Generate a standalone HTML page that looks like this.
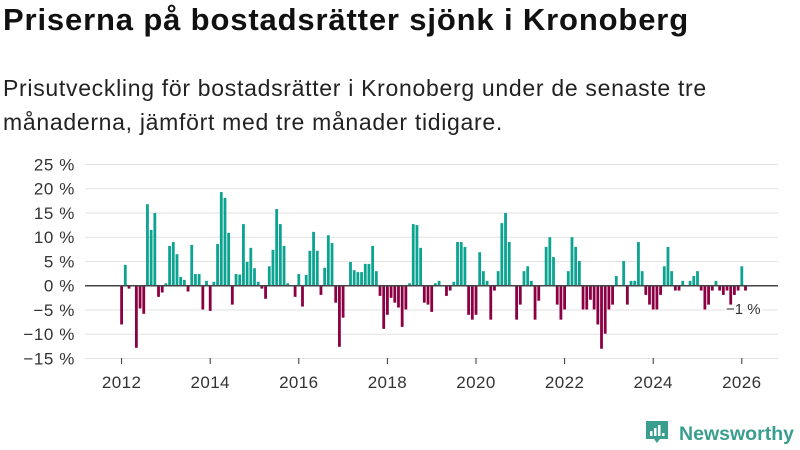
<!DOCTYPE html>
<html><head><meta charset="utf-8"><style>
html,body{margin:0;padding:0;background:#fff;}
body{width:800px;height:450px;overflow:hidden;position:relative;font-family:"Liberation Sans",sans-serif;color:#111;}
#title{position:absolute;left:3px;top:2px;font-size:31px;font-weight:bold;letter-spacing:0.85px;white-space:nowrap;}
#subtitle{position:absolute;left:3px;top:71px;font-size:23px;line-height:34px;letter-spacing:0.7px;white-space:nowrap;color:#222;}
svg{position:absolute;left:0;top:0;}
</style></head><body>
<div id="title">Priserna på bostadsrätter sjönk i Kronoberg</div>
<div id="subtitle">Prisutveckling för bostadsrätter i Kronoberg under de senaste tre<br>månaderna, jämfört med tre månader tidigare.</div>
<svg id="chart" width="800" height="450"></svg>
<script>
const values = [-8.0,4.3,-0.6,0,-12.8,-4.7,-5.8,16.8,11.5,15.0,-2.3,-1.4,
0.5,8.2,9.0,6.5,1.8,1.2,-1.2,8.4,2.4,2.4,-4.9,1.0,
-5.2,0.8,8.6,19.3,18.1,10.9,-3.9,2.4,2.3,12.7,4.9,7.8,
3.6,0.8,-0.6,-2.7,4.0,7.4,15.8,12.7,8.2,0.5,0,-2.3,
2.4,-4.3,2.2,7.2,11.1,7.2,-1.9,3.7,10.4,8.8,-3.5,-12.6,
-6.6,0,4.9,3.2,2.8,2.8,4.5,4.5,8.2,3.0,-2.1,-8.9,
-6.0,-2.5,-3.5,-4.5,-8.5,-4.9,0.5,12.7,12.5,7.8,-3.5,-3.9,
-5.4,0.5,1.0,0,-2.1,-1.0,0.8,9.0,9.0,8.0,-6.0,-7.0,
-6.0,6.9,3.0,1.0,-7.0,-1.0,3.0,12.9,15.0,9.0,0,-7.0,
-3.9,3.0,4.0,1.0,-7.0,-3.1,0,8.0,10.0,5.9,-3.9,-7.0,
-4.9,3.0,10.0,8.0,5.1,-4.9,-4.9,-2.9,-4.9,-8.0,-13.0,-9.9,
-4.9,-3.9,2.0,0,5.1,-3.9,1.0,1.0,9.0,3.0,-1.9,-3.9,
-4.9,-4.9,-1.9,4.0,8.0,3.0,-1.0,-1.0,1.0,0,1.0,2.0,
3.0,-1.0,-4.9,-3.9,-1.0,1.0,-1.0,-1.9,-1.0,-3.9,-1.9,-1.0,
4.0,-1.0];
const startYear = 2012;
const yTicks = [25,20,15,10,5,0,-5,-10,-15];
const xTicks = [2012,2014,2016,2018,2020,2022,2024,2026];
const lastLabel = "−1 %";

const svg = document.getElementById('chart');
const NS = 'http://www.w3.org/2000/svg';
const y = v => 285.7 - v*4.85;
const x = t => 121.6 + (t - startYear)*44.3;
function mk(tag, attrs){const e=document.createElementNS(NS,tag);for(const k in attrs)e.setAttribute(k,attrs[k]);svg.appendChild(e);return e;}

yTicks.forEach(v=>{
  const g = mk('line',{x1:85,x2:778,y1:y(v),y2:y(v),stroke:'#e2e2e2','stroke-width':1});
  
  
  const t = mk('text',{x:75,y:y(v)+6,'text-anchor':'end','font-size':17,'letter-spacing':0.6,fill:'#333','font-family':'Liberation Sans, sans-serif'});
  t.textContent = (v<0?'−'+(-v):v)+' %';
  
  
});
xTicks.forEach(yr=>{
  const px = x(yr);
  const tk = mk('line',{x1:px,x2:px,y1:358,y2:364,stroke:'#333','stroke-width':1});
  
  
  const t = mk('text',{x:px,y:388,'text-anchor':'middle','font-size':17,'letter-spacing':0.4,fill:'#333','font-family':'Liberation Sans, sans-serif'});
  t.textContent = yr;
  
  
});
values.forEach((v,i)=>{
  if(v===0) return;
  const px = x(startYear + i/12);
  const top = Math.min(y(v),y(0)), h = Math.abs(y(v)-y(0));
  const b = mk('rect',{x:px-1.4,y:top,width:2.8,height:h,fill:v>0?'#0ca391':'#8b0043'});
  
  
});
const z = mk('line',{x1:85,x2:778,y1:y(0),y2:y(0),stroke:'#444','stroke-width':1.5});


const ll = mk('text',{x:726,y:314,'font-size':15,fill:'#333','font-family':'Liberation Sans, sans-serif',stroke:'#fff','stroke-width':3,'paint-order':'stroke'});
ll.textContent = lastLabel;


</script>
<svg width="800" height="450" style="pointer-events:none">
  <path d="M646 421 h22 v18 h-8 l-3 4 l-3 -4 h-8 z" fill="#3a9e8f"/>
  <rect x="650" y="431" width="2.5" height="5" fill="#fff"/>
  <rect x="654" y="428" width="2.5" height="8" fill="#fff"/>
  <rect x="658" y="425" width="2.5" height="11" fill="#fff"/>
  <rect x="662" y="433" width="2.5" height="3" fill="#fff"/>
  <text x="679" y="440" font-size="19" font-weight="bold" fill="#3a9e8f" font-family="Liberation Sans, sans-serif" textLength="115" lengthAdjust="spacingAndGlyphs">Newsworthy</text>
</svg>
</body></html>
